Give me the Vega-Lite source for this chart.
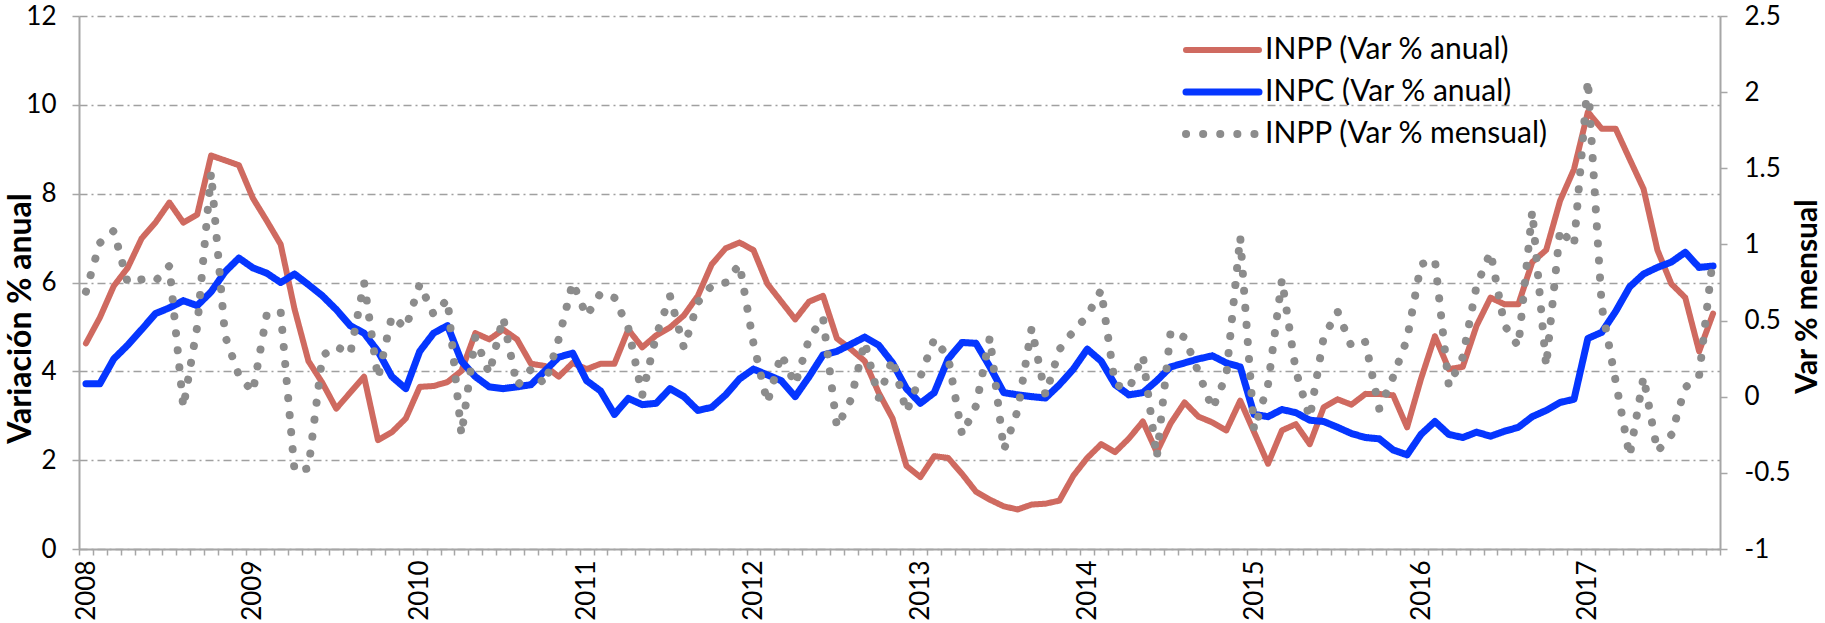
{
  "$schema": "https://vega.github.io/schema/vega-lite/v6.json",
  "width": 1641,
  "height": 533,
  "autosize": {"type": "none"},
  "padding": {"left": 79, "top": 16, "right": 105, "bottom": 74},
  "background": "white",
  "config": {
    "font": "Lato",
    "view": {"stroke": null},
    "axis": {
      "labelColor": "#000000",
      "titleColor": "#000000",
      "domainColor": "#a6a6a6",
      "tickColor": "#a6a6a6",
      "domainWidth": 2,
      "tickWidth": 1.5,
      "labelFontSize": 26,
      "titleFontSize": 30,
      "labelFont": "Lato",
      "titleFont": "Lato"
    }
  },
  "data": {
    "values": [
      {"m": 0, "a": 4.63, "c": 3.72, "p": 0.69},
      {"m": 1, "a": 5.21, "c": 3.72, "p": 1.01},
      {"m": 2, "a": 5.92, "c": 4.28, "p": 1.09},
      {"m": 3, "a": 6.33, "c": 4.59, "p": 0.75},
      {"m": 4, "a": 6.99, "c": 4.94, "p": 0.77},
      {"m": 5, "a": 7.35, "c": 5.30, "p": 0.76},
      {"m": 6, "a": 7.80, "c": 5.43, "p": 0.86},
      {"m": 7, "a": 7.35, "c": 5.59, "p": -0.07},
      {"m": 8, "a": 7.53, "c": 5.48, "p": 0.46},
      {"m": 9, "a": 8.86, "c": 5.79, "p": 1.47},
      {"m": 10, "a": 8.75, "c": 6.24, "p": 0.40},
      {"m": 11, "a": 8.64, "c": 6.55, "p": 0.14},
      {"m": 12, "a": 7.90, "c": 6.33, "p": 0.03},
      {"m": 13, "a": 7.39, "c": 6.21, "p": 0.54},
      {"m": 14, "a": 6.86, "c": 6.00, "p": 0.56},
      {"m": 15, "a": 5.40, "c": 6.19, "p": -0.49},
      {"m": 16, "a": 4.23, "c": 5.95, "p": -0.47},
      {"m": 17, "a": 3.74, "c": 5.70, "p": 0.27},
      {"m": 18, "a": 3.16, "c": 5.39, "p": 0.33},
      {"m": 19, "a": 3.52, "c": 5.03, "p": 0.28},
      {"m": 20, "a": 3.88, "c": 4.86, "p": 0.75},
      {"m": 21, "a": 2.45, "c": 4.45, "p": 0.12},
      {"m": 22, "a": 2.63, "c": 3.88, "p": 0.53},
      {"m": 23, "a": 2.94, "c": 3.61, "p": 0.45},
      {"m": 24, "a": 3.65, "c": 4.45, "p": 0.74},
      {"m": 25, "a": 3.67, "c": 4.86, "p": 0.54},
      {"m": 26, "a": 3.76, "c": 5.03, "p": 0.64},
      {"m": 27, "a": 4.01, "c": 4.23, "p": -0.25},
      {"m": 28, "a": 4.86, "c": 3.88, "p": 0.39},
      {"m": 29, "a": 4.72, "c": 3.65, "p": 0.15},
      {"m": 30, "a": 4.94, "c": 3.61, "p": 0.52},
      {"m": 31, "a": 4.72, "c": 3.65, "p": 0.07},
      {"m": 32, "a": 4.17, "c": 3.70, "p": 0.18},
      {"m": 33, "a": 4.12, "c": 4.01, "p": 0.08},
      {"m": 34, "a": 3.88, "c": 4.32, "p": 0.38},
      {"m": 35, "a": 4.19, "c": 4.41, "p": 0.75},
      {"m": 36, "a": 4.05, "c": 3.79, "p": 0.53},
      {"m": 37, "a": 4.17, "c": 3.56, "p": 0.68},
      {"m": 38, "a": 4.17, "c": 3.03, "p": 0.65},
      {"m": 39, "a": 4.94, "c": 3.39, "p": 0.45},
      {"m": 40, "a": 4.54, "c": 3.25, "p": 0.01},
      {"m": 41, "a": 4.81, "c": 3.28, "p": 0.40},
      {"m": 42, "a": 4.99, "c": 3.61, "p": 0.66},
      {"m": 43, "a": 5.26, "c": 3.43, "p": 0.32},
      {"m": 44, "a": 5.70, "c": 3.12, "p": 0.62},
      {"m": 45, "a": 6.41, "c": 3.19, "p": 0.73},
      {"m": 46, "a": 6.77, "c": 3.47, "p": 0.75},
      {"m": 47, "a": 6.90, "c": 3.83, "p": 0.87},
      {"m": 48, "a": 6.73, "c": 4.05, "p": 0.35},
      {"m": 49, "a": 5.97, "c": 3.92, "p": -0.04},
      {"m": 50, "a": 5.57, "c": 3.79, "p": 0.28},
      {"m": 51, "a": 5.17, "c": 3.43, "p": 0.08},
      {"m": 52, "a": 5.57, "c": 3.88, "p": 0.38},
      {"m": 53, "a": 5.70, "c": 4.37, "p": 0.52},
      {"m": 54, "a": 4.74, "c": 4.45, "p": -0.20},
      {"m": 55, "a": 4.50, "c": 4.61, "p": -0.02},
      {"m": 56, "a": 4.23, "c": 4.77, "p": 0.36},
      {"m": 57, "a": 3.52, "c": 4.59, "p": -0.01},
      {"m": 58, "a": 2.94, "c": 4.19, "p": 0.25},
      {"m": 59, "a": 1.87, "c": 3.61, "p": -0.10},
      {"m": 60, "a": 1.62, "c": 3.28, "p": 0.13},
      {"m": 61, "a": 2.09, "c": 3.52, "p": 0.38},
      {"m": 62, "a": 2.05, "c": 4.28, "p": 0.26},
      {"m": 63, "a": 1.69, "c": 4.65, "p": -0.25},
      {"m": 64, "a": 1.29, "c": 4.63, "p": -0.06},
      {"m": 65, "a": 1.11, "c": 4.10, "p": 0.39},
      {"m": 66, "a": 0.96, "c": 3.52, "p": -0.35},
      {"m": 67, "a": 0.89, "c": 3.47, "p": -0.09},
      {"m": 68, "a": 1.00, "c": 3.43, "p": 0.45},
      {"m": 69, "a": 1.02, "c": 3.40, "p": 0.01},
      {"m": 70, "a": 1.09, "c": 3.70, "p": 0.31},
      {"m": 71, "a": 1.65, "c": 4.05, "p": 0.43},
      {"m": 72, "a": 2.05, "c": 4.50, "p": 0.53},
      {"m": 73, "a": 2.36, "c": 4.23, "p": 0.70},
      {"m": 74, "a": 2.18, "c": 3.70, "p": 0.08},
      {"m": 75, "a": 2.49, "c": 3.47, "p": 0.05},
      {"m": 76, "a": 2.87, "c": 3.52, "p": 0.27},
      {"m": 77, "a": 2.18, "c": 3.79, "p": -0.40},
      {"m": 78, "a": 2.83, "c": 4.10, "p": 0.43},
      {"m": 79, "a": 3.30, "c": 4.19, "p": 0.39},
      {"m": 80, "a": 2.98, "c": 4.28, "p": 0.16},
      {"m": 81, "a": 2.85, "c": 4.35, "p": -0.08},
      {"m": 82, "a": 2.67, "c": 4.19, "p": 0.14},
      {"m": 83, "a": 3.34, "c": 4.10, "p": 1.05},
      {"m": 84, "a": 2.63, "c": 3.03, "p": -0.22},
      {"m": 85, "a": 1.92, "c": 2.98, "p": 0.08},
      {"m": 86, "a": 2.67, "c": 3.14, "p": 0.77},
      {"m": 87, "a": 2.81, "c": 3.07, "p": 0.17},
      {"m": 88, "a": 2.36, "c": 2.90, "p": -0.14},
      {"m": 89, "a": 3.19, "c": 2.87, "p": 0.39},
      {"m": 90, "a": 3.37, "c": 2.74, "p": 0.56},
      {"m": 91, "a": 3.25, "c": 2.60, "p": 0.33},
      {"m": 92, "a": 3.49, "c": 2.51, "p": 0.36},
      {"m": 93, "a": 3.49, "c": 2.48, "p": -0.08},
      {"m": 94, "a": 3.46, "c": 2.23, "p": 0.13},
      {"m": 95, "a": 2.74, "c": 2.12, "p": 0.38},
      {"m": 96, "a": 3.83, "c": 2.58, "p": 0.87},
      {"m": 97, "a": 4.79, "c": 2.87, "p": 0.90},
      {"m": 98, "a": 4.05, "c": 2.58, "p": 0.07},
      {"m": 99, "a": 4.10, "c": 2.51, "p": 0.26},
      {"m": 100, "a": 5.03, "c": 2.63, "p": 0.73},
      {"m": 101, "a": 5.66, "c": 2.54, "p": 0.95},
      {"m": 102, "a": 5.51, "c": 2.65, "p": 0.47},
      {"m": 103, "a": 5.51, "c": 2.74, "p": 0.33},
      {"m": 104, "a": 6.46, "c": 2.98, "p": 1.22},
      {"m": 105, "a": 6.73, "c": 3.12, "p": 0.20},
      {"m": 106, "a": 7.84, "c": 3.30, "p": 1.10},
      {"m": 107, "a": 8.55, "c": 3.37, "p": 0.99},
      {"m": 108, "a": 9.84, "c": 4.74, "p": 2.08},
      {"m": 109, "a": 9.46, "c": 4.88, "p": 0.59},
      {"m": 110, "a": 9.46, "c": 5.35, "p": 0.10},
      {"m": 111, "a": 8.78, "c": 5.90, "p": -0.39},
      {"m": 112, "a": 8.11, "c": 6.19, "p": 0.13},
      {"m": 113, "a": 6.73, "c": 6.34, "p": -0.36},
      {"m": 114, "a": 5.97, "c": 6.46, "p": -0.25},
      {"m": 115, "a": 5.66, "c": 6.68, "p": 0.06},
      {"m": 116, "a": 4.45, "c": 6.34, "p": 0.14},
      {"m": 117, "a": 5.30, "c": 6.37, "p": 0.92}
    ]
  },
  "encoding": {
    "x": {
      "field": "m",
      "type": "quantitative",
      "scale": {"domain": [-0.5, 117.5], "nice": false, "zero": false},
      "axis": {
        "title": null,
        "grid": false,
        "values": [-0.5,0.5,1.5,2.5,3.5,4.5,5.5,6.5,7.5,8.5,9.5,10.5,11.5,12.5,13.5,14.5,15.5,16.5,17.5,18.5,19.5,20.5,21.5,22.5,23.5,24.5,25.5,26.5,27.5,28.5,29.5,30.5,31.5,32.5,33.5,34.5,35.5,36.5,37.5,38.5,39.5,40.5,41.5,42.5,43.5,44.5,45.5,46.5,47.5,48.5,49.5,50.5,51.5,52.5,53.5,54.5,55.5,56.5,57.5,58.5,59.5,60.5,61.5,62.5,63.5,64.5,65.5,66.5,67.5,68.5,69.5,70.5,71.5,72.5,73.5,74.5,75.5,76.5,77.5,78.5,79.5,80.5,81.5,82.5,83.5,84.5,85.5,86.5,87.5,88.5,89.5,90.5,91.5,92.5,93.5,94.5,95.5,96.5,97.5,98.5,99.5,100.5,101.5,102.5,103.5,104.5,105.5,106.5,107.5,108.5,109.5,110.5,111.5,112.5,113.5,114.5,115.5,116.5,117.5],
        "labelExpr": "(datum.value + 0.5) % 12 == 0 && datum.value < 117 ? '' + (2008 + (datum.value + 0.5) / 12) : ''",
        "labelAngle": -90,
        "labelOffset": 7,
        "labelPadding": 5,
        "labelFontSize": 26,
        "labelOverlap": false,
        "labelFlush": false,
        "tickSize": 6
      }
    }
  },
  "layer": [
    {
      "transform": [{"fold": ["a", "c"], "as": ["k", "v"]}],
      "mark": {"type": "line", "strokeCap": "round", "strokeJoin": "round"},
      "encoding": {
        "y": {
          "field": "v",
          "type": "quantitative",
          "scale": {"domain": [0, 12], "nice": false, "zero": false},
          "axis": {
            "values": [0, 2, 4, 6, 8, 10, 12],
            "grid": true,
            "gridDash": [8, 4, 2, 4],
            "gridColor": "#a0a0a0",
            "gridWidth": 1.5,
            "tickSize": 7,
            "labelPadding": 16,
            "title": "Variación % anual",
            "titleFontWeight": "bold",
            "titleFontSize": 32,
            "titleAngle": -90,
            "titleBaseline": "alphabetic",
            "titleAlign": "center",
            "titleX": -49,
            "titleY": 302
          }
        },
        "color": {
          "field": "k",
          "type": "nominal",
          "scale": {"domain": ["a", "c", "p"], "range": ["#cf6a60", "#0536ff", "#8c8c8c"]},
          "legend": {
            "orient": "none",
            "legendX": 1103,
            "legendY": 19,
            "title": null,
            "padding": 0,
            "symbolType": "stroke",
            "symbolSize": 5329,
            "clipHeight": 30,
            "rowPadding": 12,
            "labelOffset": 2,
            "labelFontSize": 30,
            "labelFont": "Lato",
            "labelColor": "#000000",
            "labelLimit": 400,
            "labelExpr": "datum.label == 'a' ? 'INPP (Var % anual)' : datum.label == 'c' ? 'INPC (Var % anual)' : 'INPP (Var % mensual)'",
            "encode": {"symbols": {"update": {"strokeCap": {"value": "round"}}}}
          }
        },
        "strokeWidth": {
          "field": "k",
          "type": "nominal",
          "scale": {"domain": ["a", "c", "p"], "range": [6, 8, 7]}
        },
        "strokeDash": {
          "field": "k",
          "type": "nominal",
          "scale": {"domain": ["a", "c", "p"], "range": [[1, 0], [1, 0], [0.1, 17]]}
        }
      }
    },
    {
      "transform": [{"fold": ["p"], "as": ["k", "v"]}],
      "mark": {"type": "line", "strokeCap": "round", "strokeJoin": "round"},
      "encoding": {
        "y": {
          "field": "v",
          "type": "quantitative",
          "scale": {"domain": [-1, 2.5], "nice": false, "zero": false},
          "axis": {
            "orient": "right",
            "values": [-1, -0.5, 0, 0.5, 1, 1.5, 2, 2.5],
            "labelExpr": "'' + datum.value",
            "grid": false,
            "tickSize": 7,
            "labelPadding": 17,
            "title": "Var % mensual",
            "titleFontWeight": "bold",
            "titleFontSize": 30,
            "titleAngle": -90,
            "titleBaseline": "alphabetic",
            "titleAlign": "center",
            "titleX": 96,
            "titleY": 280
          }
        },
        "color": {"field": "k", "type": "nominal"},
        "strokeWidth": {"field": "k", "type": "nominal"},
        "strokeDash": {"field": "k", "type": "nominal"}
      }
    }
  ],
  "resolve": {"scale": {"y": "independent"}, "axis": {"y": "independent"}}
}
